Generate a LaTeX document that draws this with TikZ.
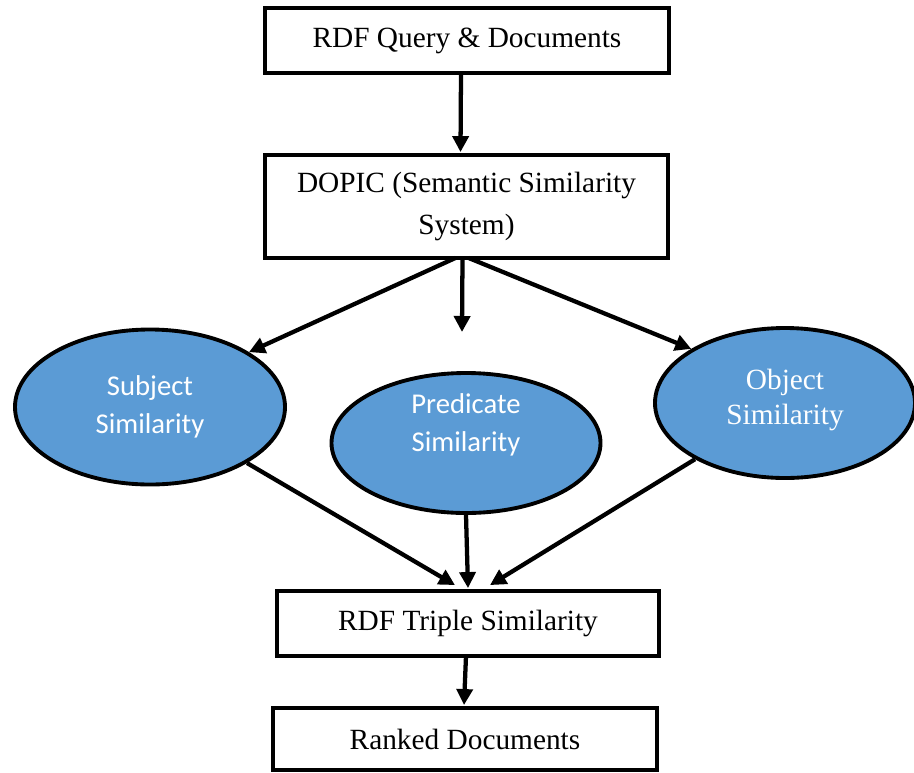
\documentclass[tikz,border=0pt]{standalone}
\usepackage{fontspec}
\setmainfont{Liberation Serif}
\newfontfamily\ellfont{Carlito}
\usetikzlibrary{arrows.meta,calc,shapes.geometric}
\definecolor{simblue}{HTML}{5B9BD5}
\tikzset{
  stagebox/.style={draw=black, line width=2.9pt, fill=white, inner sep=0pt,
    font=\fontsize{22}{31}\selectfont, align=center},
  simnode/.style={ellipse, draw=black, line width=2.9pt, fill=simblue, inner sep=0pt,
    text=white, align=center},
  flow/.style={line width=3.2pt, -{Triangle[length=12pt,width=12pt]}},
}
\begin{document}
\begin{tikzpicture}[x=0.75pt, y=-0.75pt]
\useasboundingbox (0,0) rectangle (914,772);

% process stages
\node[stagebox, minimum width=303pt, minimum height=48.75pt] (query) at (467,40.5) {RDF Query \& Documents};
\node[stagebox, minimum width=302.25pt, minimum height=77.25pt] (dopic) at (466.5,206.5)
  {DOPIC (Semantic Similarity\\System)};
\node[stagebox, minimum width=286.5pt, minimum height=48.75pt] (triple) at (468,623.5) {RDF Triple Similarity};
\node[stagebox, minimum width=288pt, minimum height=46.5pt] (ranked) at (465,739) {Ranked Documents};

% similarity measures
\node[simnode, minimum width=202.5pt, minimum height=116.25pt,
  font=\ellfont\fontsize{21.5}{28.5}\selectfont] (subj) at (150,407) {Subject\\Similarity};
\node[simnode, minimum width=201.75pt, minimum height=105pt,
  font=\ellfont\fontsize{21.5}{28.5}\selectfont] (pred) at (466,443) {Predicate\\Similarity\\[2pt]};
\node[simnode, minimum width=195pt, minimum height=112.5pt,
  font=\fontsize{22}{26}\selectfont] (obj) at (785,403) {Object\\Similarity\\[-17pt]};

% connector end points
\coordinate (dsL) at ($(dopic.south)+(-11,-2)$);
\coordinate (dsM) at ($(dopic.south)+(-4,-2)$);
\coordinate (dsR) at ($(dopic.south)+(2,-2)$);
\coordinate (predtip) at (462,332);

% connectors
\draw[flow] ($(query.south)+(-6,-2)$) -- ($(dopic.north)+(-6,-1)$);
\draw[flow] (dsL) -- (subj.29);
\draw[flow] (dsM) -- (predtip);
\draw[flow] (dsR) -- (obj.150);
\draw[flow] (subj.-30) -- ($(triple.north)+(-13,-4)$);
\draw[flow] (pred.south) -- ($(triple.north)+(0,-1)$);
\draw[flow] (obj.-148) -- ($(triple.north)+(22,-4)$);
\draw[flow] ($(triple.south)+(-2,-2)$) -- ($(ranked.north)+(-1,-1)$);
\end{tikzpicture}
\end{document}
